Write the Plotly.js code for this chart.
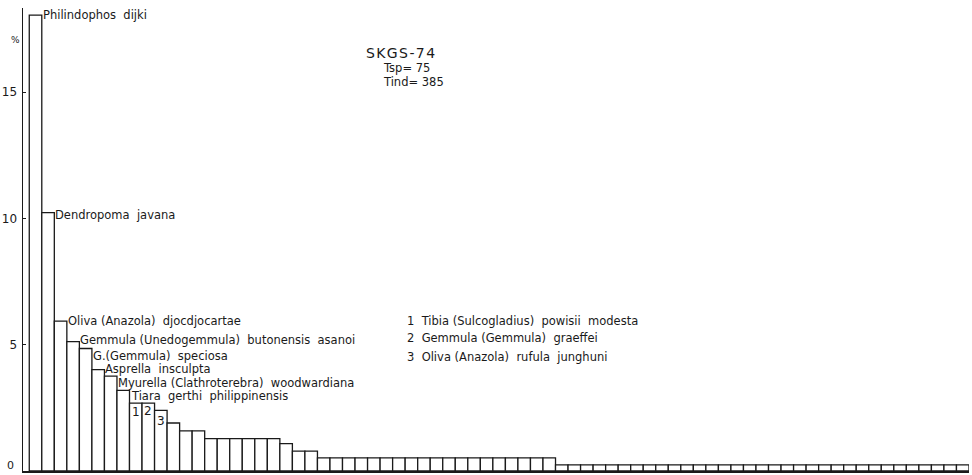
<!DOCTYPE html>
<html>
<head>
<meta charset="utf-8">
<script src="https://cdn.plot.ly/plotly-3.0.1.min.js"></script>
<style>
  html, body { margin: 0; padding: 0; background: #fff; }
  #chart { width: 972px; height: 475px; }
</style>
</head>
<body>
<div id="chart"></div>
<script>
// ---- data (percent of individuals per species, ranked) ----
const percentValues = [
  18.05, 10.23, 5.93, 5.12, 4.85, 4.01, 3.76, 3.19, 2.69, 2.69,
  2.40, 1.90, 1.59, 1.59, 1.28, 1.28, 1.28, 1.28, 1.28, 1.28,
  1.08, 0.79, 0.79, 0.52, 0.52, 0.52, 0.52, 0.52, 0.52, 0.52,
  0.52, 0.52, 0.52, 0.52, 0.52, 0.52, 0.52, 0.52, 0.52, 0.52,
  0.52, 0.52, 0.24, 0.24, 0.24, 0.24, 0.24, 0.24, 0.24, 0.24,
  0.24, 0.24, 0.24, 0.24, 0.24, 0.24, 0.24, 0.24, 0.24, 0.24,
  0.24, 0.24, 0.24, 0.24, 0.24, 0.24, 0.24, 0.24, 0.24, 0.24,
  0.24, 0.24, 0.24, 0.24, 0.24
];
const speciesLabels = [
  "Philindophos\u00a0 dijki",
  "Dendropoma\u00a0 javana",
  "Oliva (Anazola)\u00a0 djocdjocartae",
  "Gemmula (Unedogemmula)\u00a0 butonensis\u00a0 asanoi",
  "G.(Gemmula)\u00a0 speciosa",
  "Asprella\u00a0 insculpta",
  "Myurella (Clathroterebra)\u00a0 woodwardiana",
  "Tiara\u00a0 gerthi\u00a0 philippinensis"
];
const speciesRanks = [1, 2, 3, 4, 5, 6, 7, 8];
const numberedMarks = ["1", "2", "3"];
const numberedRanks = [9, 10, 11];
const numberedLegend = [
  "1\u00a0 Tibia (Sulcogladius)\u00a0 powisii\u00a0 modesta",
  "2\u00a0 Gemmula (Gemmula)\u00a0 graeffei",
  "3\u00a0 Oliva (Anazola)\u00a0 rufula\u00a0 junghuni"
];
const sampleTitle = "SKGS-74";
const sampleStats = ["Tsp= 75", "Tind= 385"];
const yTickValues = [0, 5, 10, 15];
const yTickLabels = ["", "5", "10", "15"];
const zeroLabel = "0";

// ---- layout constants ----
const W = 972, H = 475;
const M = { l: 23, r: 3, t: 8, b: 4 };
const plotW = W - M.l - M.r, plotH = H - M.t - M.b;
const px2paperX = px => (px - M.l) / plotW;
const px2paperY = py => (H - M.b - py) / plotH;
const FONT = "DejaVu Sans, sans-serif";
const INK = "#1a1a1a";

const ranks = percentValues.map((v, i) => i + 1);

const trace = {
  type: "bar",
  x: ranks,
  y: percentValues,
  width: 1,
  marker: { color: "#ffffff", line: { color: INK, width: 1.3 } },
  hoverinfo: "x+y"
};

// label vertical offsets (px) relative to bar tops
const labelShift = [0, -2, 0, 2, -8, 1, -7, -6];
const markShift = [-9, -8, -11];

const annotations = [];
speciesLabels.forEach((t, i) => {
  const r = speciesRanks[i];
  annotations.push({
    x: r + 0.5, y: percentValues[r - 1], xref: "x", yref: "y",
    text: t, showarrow: false, xanchor: "left", yanchor: "middle",
    xshift: -1, yshift: labelShift[i],
    font: { family: FONT, size: 11.5, color: INK }
  });
});
numberedMarks.forEach((t, i) => {
  const r = numberedRanks[i];
  annotations.push({
    x: r, y: percentValues[r - 1], xref: "x", yref: "y",
    text: t, showarrow: false, xanchor: "center", yanchor: "middle",
    yshift: markShift[i],
    font: { family: FONT, size: 12, color: INK }
  });
});
const legendY = [320.5, 338, 357];
numberedLegend.forEach((t, i) => {
  annotations.push({
    x: px2paperX(405), y: px2paperY(legendY[i]), xref: "paper", yref: "paper",
    text: t, showarrow: false, xanchor: "left", yanchor: "middle",
    font: { family: FONT, size: 11.5, color: INK }
  });
});
annotations.push({
  x: px2paperX(400), y: px2paperY(53), xref: "paper", yref: "paper",
  text: sampleTitle.split("").join("\u200a"), showarrow: false, xanchor: "center", yanchor: "middle",
  font: { family: FONT, size: 14, color: INK }
});
sampleStats.forEach((t, i) => {
  annotations.push({
    x: px2paperX(381), y: px2paperY([68, 82][i]), xref: "paper", yref: "paper",
    text: t, showarrow: false, xanchor: "left", yanchor: "middle",
    font: { family: FONT, size: 11.5, color: INK }
  });
});
annotations.push({
  x: px2paperX(15), y: px2paperY(40), xref: "paper", yref: "paper",
  text: "%", showarrow: false, xanchor: "center", yanchor: "middle",
  font: { family: FONT, size: 9, color: INK }
});
annotations.push({
  x: 0, y: 0, xref: "paper", yref: "paper",
  text: zeroLabel, showarrow: false, xanchor: "right", yanchor: "bottom",
  xshift: -7, yshift: -3,
  font: { family: FONT, size: 11, color: INK }
});

const layout = {
  width: W, height: H,
  margin: M,
  paper_bgcolor: "#ffffff",
  plot_bgcolor: "#ffffff",
  showlegend: false,
  bargap: 0,
  xaxis: {
    range: [0, 75.5],
    showline: true, linecolor: INK, linewidth: 1.5,
    showgrid: false, zeroline: false,
    ticks: "", showticklabels: false,
    fixedrange: true
  },
  yaxis: {
    range: [0, 18.33],
    showline: true, linecolor: INK, linewidth: 1.5,
    showgrid: false, zeroline: false,
    tickmode: "array", tickvals: yTickValues, ticktext: yTickLabels,
    ticks: "inside", ticklen: 3, tickwidth: 1.2, tickcolor: INK,
    ticklabelstandoff: 2,
    tickfont: { family: FONT, size: 12, color: INK },
    fixedrange: true
  },
  annotations: annotations
};

Plotly.newPlot("chart", [trace], layout, { displayModeBar: false, staticPlot: true });
</script>
</body>
</html>
